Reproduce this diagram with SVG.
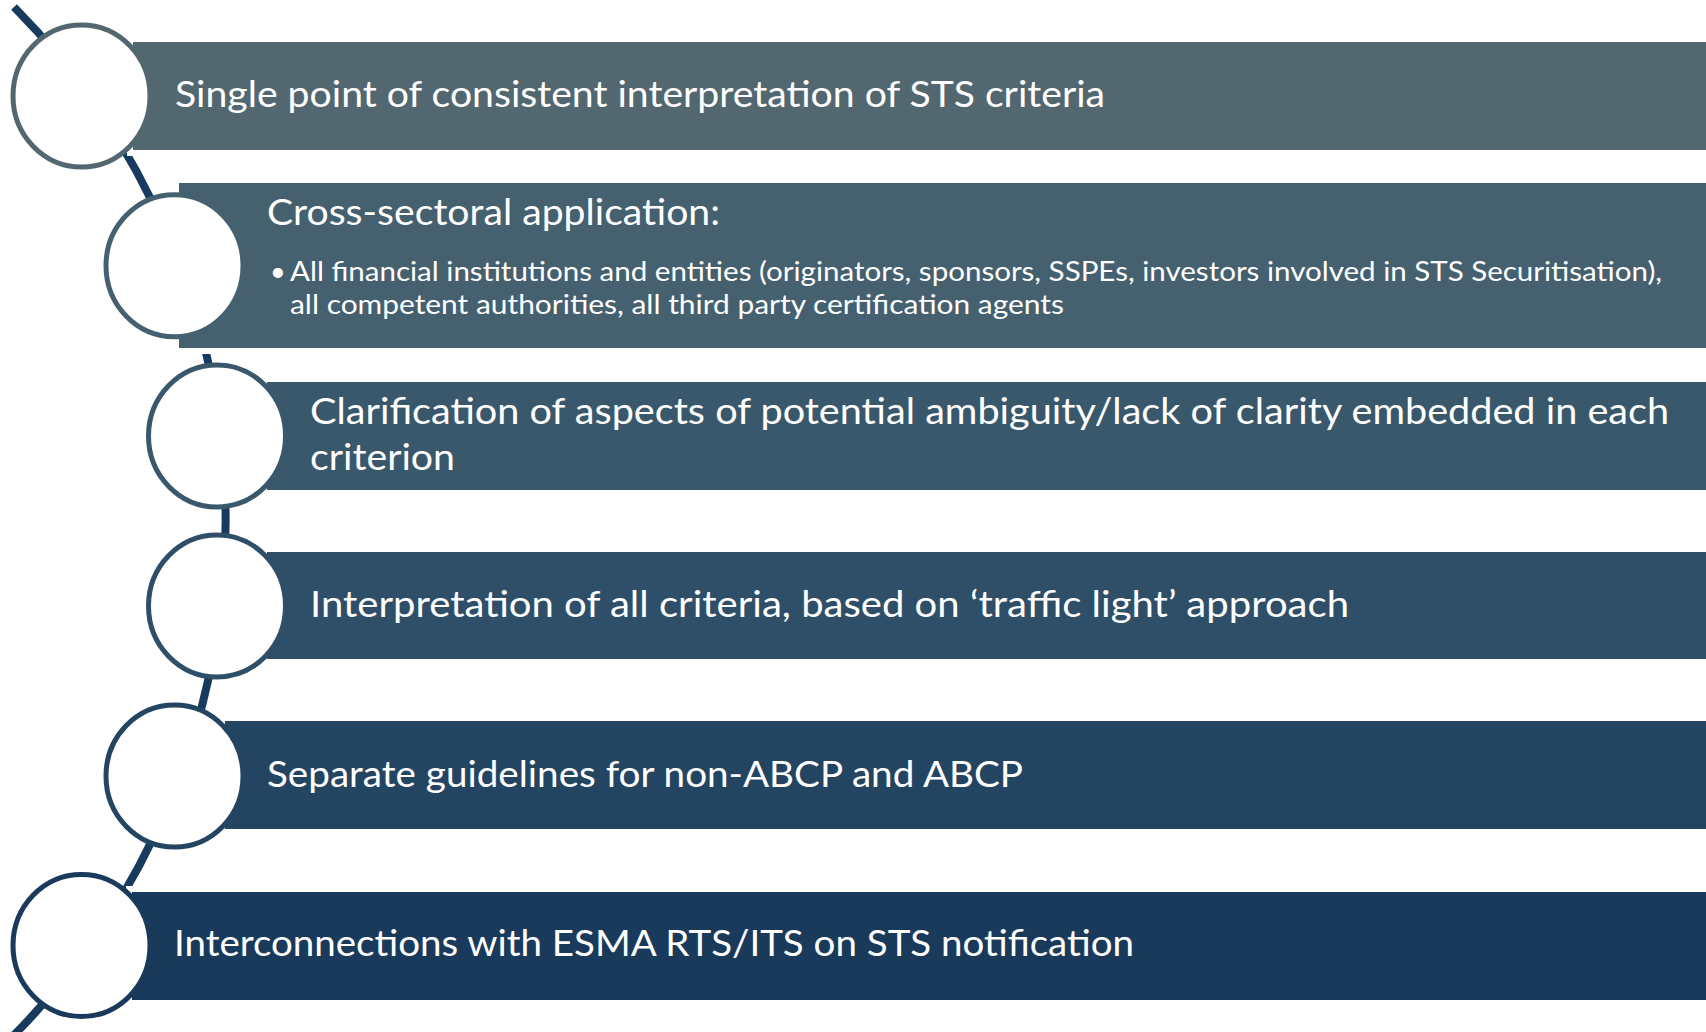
<svg xmlns="http://www.w3.org/2000/svg" width="1706" height="1032" viewBox="0 0 1706 1032">
<style>
.bar{stroke:#ffffff;stroke-width:6}
.node ellipse{fill:#ffffff;stroke-width:5}
.t{font-family:Lato,"Open Sans","Liberation Sans",sans-serif;fill:#ffffff;font-size:36px}
.s{font-size:27px}
</style>
<rect x="0" y="0" width="1706" height="1032" fill="#ffffff"/>
<g id="connectors">
<path d="M 14 7 A 730 730 0 0 1 14 1035" fill="none" stroke="#183a5e" stroke-width="8"/>
</g>
<g id="node1" class="node">
<rect class="bar" x="130" y="39" width="1600" height="114" fill="#536770"/>
<ellipse cx="81.5" cy="96" rx="68.5" ry="71" stroke="#536770"/>
<text class="t" x="175" y="107" textLength="930" lengthAdjust="spacingAndGlyphs">Single point of consistent interpretation of STS criteria</text>
</g>
<g id="node2" class="node">
<rect class="bar" x="176" y="180" width="1560" height="171" fill="#45606f"/>
<ellipse cx="174.5" cy="265.8" rx="68.5" ry="71" stroke="#45606f"/>
<text class="t" x="267" y="225" textLength="453" lengthAdjust="spacingAndGlyphs">Cross-sectoral application:</text>
<text class="t s" x="270" y="281">•</text>
<text class="t s" x="290" y="281" textLength="1372" lengthAdjust="spacingAndGlyphs">All financial institutions and entities (originators, sponsors, SSPEs, investors involved in STS Securitisation),</text>
<text class="t s" x="290" y="314" textLength="774" lengthAdjust="spacingAndGlyphs">all competent authorities, all third party certification agents</text>
</g>
<g id="node3" class="node">
<rect class="bar" x="264" y="379" width="1480" height="114" fill="#3a586b"/>
<ellipse cx="217" cy="436" rx="68.5" ry="71" stroke="#3a586b"/>
<text class="t" x="310" y="424" textLength="1359" lengthAdjust="spacingAndGlyphs">Clarification of aspects of potential ambiguity/lack of clarity embedded in each</text>
<text class="t" x="310" y="470" textLength="145" lengthAdjust="spacingAndGlyphs">criterion</text>
</g>
<g id="node4" class="node">
<rect class="bar" x="264" y="549" width="1480" height="113" fill="#2e4f67"/>
<ellipse cx="217" cy="606" rx="68.5" ry="71" stroke="#2e4f67"/>
<text class="t" x="310" y="617" textLength="1039" lengthAdjust="spacingAndGlyphs">Interpretation of all criteria, based on ‘traffic light’ approach</text>
</g>
<g id="node5" class="node">
<rect class="bar" x="222" y="718" width="1520" height="114" fill="#244562"/>
<ellipse cx="174.5" cy="776" rx="68.5" ry="71" stroke="#244562"/>
<text class="t" x="267" y="787" textLength="756" lengthAdjust="spacingAndGlyphs">Separate guidelines for non-ABCP and ABCP</text>
</g>
<g id="node6" class="node">
<rect class="bar" x="129" y="889" width="1600" height="114" fill="#1a3a5b"/>
<ellipse cx="81.5" cy="945.5" rx="68.5" ry="71" stroke="#1a3a5b"/>
<text class="t" x="174" y="956" textLength="960" lengthAdjust="spacingAndGlyphs">Interconnections with ESMA RTS/ITS on STS notification</text>
</g>
</svg>
